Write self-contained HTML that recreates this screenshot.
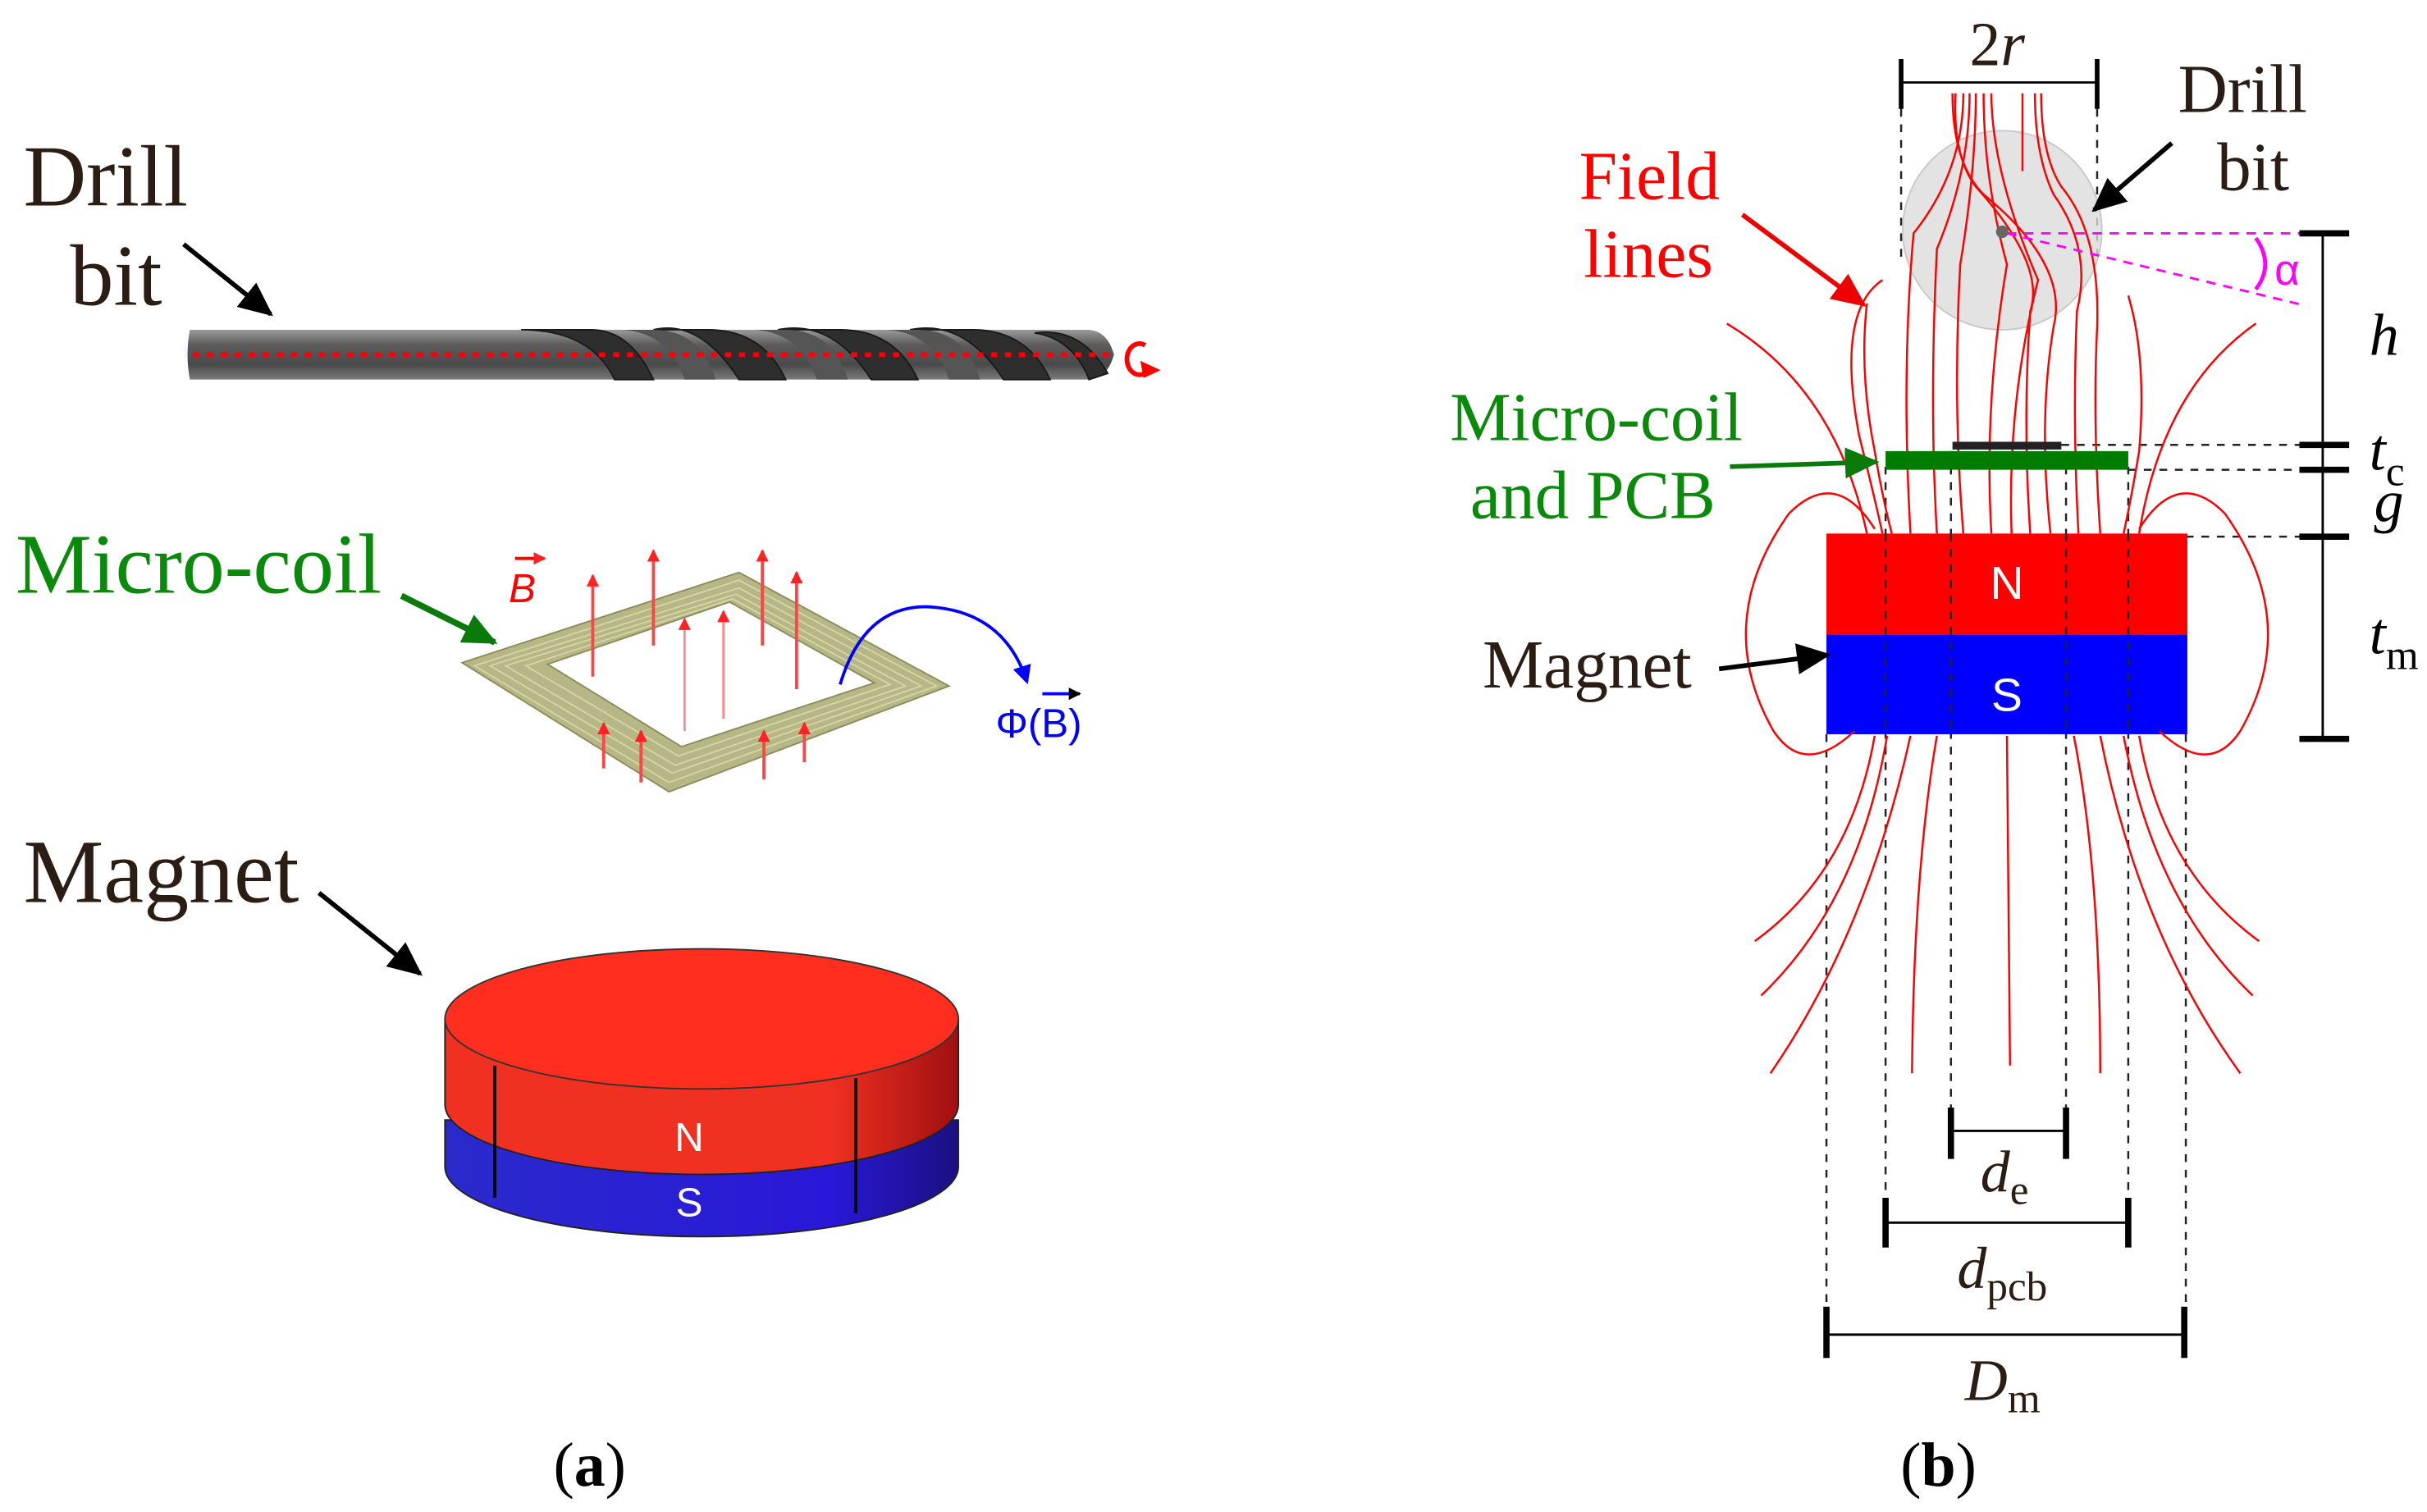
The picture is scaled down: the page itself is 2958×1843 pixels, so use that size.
<!DOCTYPE html>
<html><head><meta charset="utf-8"><style>
html,body{margin:0;padding:0;background:#fff;}
svg{display:block;}
.s{font-family:"Liberation Serif",serif;}
</style></head><body>
<svg width="2958" height="1843" viewBox="0 0 1560 972" xmlns="http://www.w3.org/2000/svg">
<defs>
<marker id="ab" markerWidth="8" markerHeight="8" refX="7" refY="4" orient="auto" markerUnits="userSpaceOnUse" viewBox="0 0 8 8"><path d="M0,0 L8,4 L0,8z" fill="#000"/></marker>
<marker id="abk" markerWidth="22" markerHeight="20" refX="20" refY="10" orient="auto" markerUnits="userSpaceOnUse"><path d="M0,0 L22,10 L0,20z" fill="#000"/></marker>
<marker id="agr" markerWidth="22" markerHeight="20" refX="20" refY="10" orient="auto" markerUnits="userSpaceOnUse"><path d="M0,0 L22,10 L0,20z" fill="#0a7a0a"/></marker>
<marker id="ard" markerWidth="22" markerHeight="20" refX="20" refY="10" orient="auto" markerUnits="userSpaceOnUse"><path d="M0,0 L22,10 L0,20z" fill="#e00"/></marker>
<marker id="asr" markerWidth="8" markerHeight="8" refX="7" refY="4" orient="auto" markerUnits="userSpaceOnUse"><path d="M0,0 L8,4 L0,8z" fill="#f22"/></marker>
<marker id="abl" markerWidth="12" markerHeight="12" refX="10" refY="6" orient="auto" markerUnits="userSpaceOnUse"><path d="M0,0 L12,6 L0,12z" fill="#00f"/></marker>
<linearGradient id="rod" x1="0" y1="0" x2="0" y2="1"><stop offset="0" stop-color="#9a9a9a"/><stop offset="0.3" stop-color="#5c5c5c"/><stop offset="0.7" stop-color="#4a4a4a"/><stop offset="1" stop-color="#7a7a7a"/></linearGradient>
<linearGradient id="redside" x1="0" y1="0" x2="1" y2="0"><stop offset="0" stop-color="#f03020"/><stop offset="0.75" stop-color="#f03020"/><stop offset="1" stop-color="#a01010"/></linearGradient>
<linearGradient id="blueside" x1="0" y1="0" x2="1" y2="0"><stop offset="0" stop-color="#2a2acc"/><stop offset="0.75" stop-color="#2a18d8"/><stop offset="1" stop-color="#1a1080"/></linearGradient>
</defs>

<!-- ===== Panel (a) ===== -->
<text x="15" y="132" class="s" font-size="56" fill="#2b1d14">Drill</text>
<text x="45" y="196" class="s" font-size="56" fill="#2b1d14">bit</text>
<line x1="118" y1="157" x2="174" y2="202" stroke="#000" stroke-width="3" marker-end="url(#abk)"/>

<!-- drill -->
<path d="M122,212 L700,212 Q712,213 716,228 Q712,243 700,244 L122,244 Q119,228 122,212z" fill="url(#rod)"/>
<g fill="#2e2e2e" stroke="#1a1a1a" stroke-width="1">
<path d="M335,212 Q380,212 395,244 L420,244 Q405,212 380,212z"/>
<path d="M420,212 Q450,205 475,244 L505,244 Q490,212 455,212z"/>
<path d="M500,212 Q535,205 560,244 L590,244 Q575,212 540,212z"/>
<path d="M585,212 Q620,205 645,244 L675,244 Q660,212 625,212z"/>
<path d="M665,214 Q695,210 712,240 L700,244 Q690,218 665,214z"/>
</g>
<g fill="#555">
<path d="M400,212 Q430,214 440,244 L460,244 Q450,212 420,212z"/>
<path d="M485,212 Q515,214 525,244 L545,244 Q535,212 505,212z"/>
<path d="M570,212 Q600,214 610,244 L630,244 Q620,212 590,212z"/>
</g>
<line x1="124" y1="228" x2="716" y2="228" stroke="#f00" stroke-width="3" stroke-dasharray="4,5"/>
<path d="M736,222 A8,10 0 1,0 738,238" fill="none" stroke="#f00" stroke-width="3"/>
<path d="M733,232 L746,238 L735,243z" fill="#f00"/>

<!-- micro-coil -->
<text x="10" y="381" class="s" font-size="55" fill="#0a8a0a">Micro-coil</text>
<line x1="258" y1="383" x2="318" y2="413" stroke="#0a7a0a" stroke-width="4" marker-end="url(#agr)"/>
<path d="M297,426 L475,368 L610,441 L430,509z M352,427 L438,480 L562,439 L469,387z" fill="#b7b785" fill-rule="evenodd" stroke="#8c8c5c" stroke-width="1"/>
<path d="M305,428 L475,373 L602,441 L430,503z M315,428 L475,378 L592,441 L432,497z M325,428 L473,382 L582,441 L434,492z M338,428 L471,385 L572,440 L436,486z" fill="none" stroke="#d4d4a8" stroke-width="1"/>
<text x="327" y="387" font-family="Liberation Sans,sans-serif" font-style="italic" font-size="26" fill="#f00">B</text>
<line x1="331" y1="359" x2="350" y2="359" stroke="#f00" stroke-width="2" marker-end="url(#asr)"/>
<g stroke="#f44" stroke-width="2" marker-end="url(#asr)">
<line x1="381" y1="435" x2="381" y2="370"/>
<line x1="420" y1="415" x2="420" y2="354"/>
<line x1="490" y1="415" x2="490" y2="354"/>
<line x1="512" y1="443" x2="512" y2="368"/>
<line x1="388" y1="494" x2="388" y2="465"/>
<line x1="412" y1="503" x2="412" y2="470"/>
<line x1="491" y1="501" x2="491" y2="470"/>
<line x1="517" y1="490" x2="517" y2="465"/>
</g>
<g stroke="#f88" stroke-width="1.5" marker-end="url(#asr)">
<line x1="440" y1="470" x2="440" y2="398"/>
<line x1="465" y1="462" x2="465" y2="393"/>
</g>
<path d="M540,440 Q555,390 595,390 Q645,392 660,438" fill="none" stroke="#00f" stroke-width="2" marker-end="url(#abl)"/>
<text x="640" y="474" font-family="Liberation Sans,sans-serif" font-size="26" fill="#00f">Φ(B)</text>
<line x1="670" y1="446" x2="694" y2="446" stroke="#00f" stroke-width="2" marker-end="url(#ab)"/>

<!-- magnet -->
<text x="15" y="580" class="s" font-size="58" fill="#2b1d14">Magnet</text>
<line x1="205" y1="574" x2="270" y2="626" stroke="#000" stroke-width="3" marker-end="url(#abk)"/>
<path d="M286,720 L286,750 A165,45 0 0,0 616,750 L616,720z" fill="url(#blueside)" stroke="#222" stroke-width="1"/>
<path d="M286,655 L286,710 A165,45 0 0,0 616,710 L616,655z" fill="url(#redside)" stroke="#222" stroke-width="1"/>
<ellipse cx="451" cy="655" rx="165" ry="45" fill="#ff2e1e" stroke="#333" stroke-width="1"/>
<line x1="318" y1="685" x2="318" y2="770" stroke="#000" stroke-width="2"/>
<line x1="550" y1="693" x2="550" y2="780" stroke="#000" stroke-width="2"/>
<text x="443" y="740" text-anchor="middle" font-family="Liberation Sans,sans-serif" font-size="26" fill="#fff">N</text>
<text x="443" y="782" text-anchor="middle" font-family="Liberation Sans,sans-serif" font-size="26" fill="#fff">S</text>
<text x="379" y="955" text-anchor="middle" class="s" font-size="40" fill="#000">(<tspan font-weight="bold">a</tspan>)</text>

<!-- ===== Panel (b) ===== -->
<g stroke="#222" stroke-width="1.3" stroke-dasharray="5,5" fill="none">
<line x1="1222" y1="70" x2="1222" y2="170"/>
<line x1="1348" y1="70" x2="1348" y2="170"/>
<line x1="1174" y1="472" x2="1174" y2="870"/>
<line x1="1405" y1="472" x2="1405" y2="870"/>
<line x1="1212" y1="300" x2="1212" y2="790"/>
<line x1="1368" y1="300" x2="1368" y2="790"/>
<line x1="1254" y1="290" x2="1254" y2="740"/>
<line x1="1328" y1="290" x2="1328" y2="740"/>
<line x1="1325" y1="286" x2="1482" y2="286"/>
<line x1="1368" y1="302" x2="1482" y2="302"/>
<line x1="1405" y1="345" x2="1482" y2="345"/>
</g>

<circle cx="1287" cy="148" r="64" fill="#dcdcdc" fill-opacity="0.8" stroke="#c8c8c8"/>

<rect x="1174" y="343" width="232" height="65" fill="#ff0000"/>
<rect x="1174" y="408" width="232" height="64" fill="#0000ff"/>
<text x="1290" y="385" text-anchor="middle" font-family="Liberation Sans,sans-serif" font-size="30" fill="#fff">N</text>
<text x="1290" y="457" text-anchor="middle" font-family="Liberation Sans,sans-serif" font-size="30" fill="#fff">S</text>
<g stroke="#222" stroke-width="1.3" stroke-dasharray="5,5">
<line x1="1212" y1="343" x2="1212" y2="472"/><line x1="1368" y1="343" x2="1368" y2="472"/>
<line x1="1254" y1="343" x2="1254" y2="472"/><line x1="1328" y1="343" x2="1328" y2="472"/>
</g>

<g fill="none" stroke="#f00" stroke-width="1.3">
<path d="M1262,60 Q1262,110 1230,150 Q1222,240 1228,343"/>
<path d="M1266,60 Q1266,110 1245,160 Q1240,260 1245,343"/>
<path d="M1270,60 Q1270,110 1260,170 Q1255,260 1262,343"/>
<path d="M1275,60 Q1275,115 1290,170 Q1275,260 1280,343"/>
<path d="M1280,60 Q1280,110 1310,180 Q1290,260 1293,343"/>
<path d="M1257,60 Q1255,100 1270,120 Q1315,170 1305,200 Q1300,270 1305,343"/>
<path d="M1255,60 Q1255,105 1275,125 Q1330,170 1320,210 Q1310,270 1318,343"/>
<path d="M1300,60 L1300,110"/>
<path d="M1308,60 Q1308,100 1320,125 Q1345,160 1335,200 Q1332,270 1336,343"/>
<path d="M1312,60 Q1312,100 1325,120 Q1350,150 1348,210 Q1345,270 1350,343"/>
<path d="M1200,195 Q1195,240 1205,290 Q1210,320 1216,343"/>
<path d="M1210,180 Q1180,200 1195,280 Q1205,320 1210,343"/>
<path d="M1368,190 Q1380,230 1375,290 Q1370,320 1365,343"/>
<path d="M1110,208 Q1180,250 1200,343"/>
<path d="M1450,208 Q1390,250 1375,343"/>
<path d="M1205,340 Q1180,300 1150,330 Q1100,400 1140,470 Q1160,500 1192,470"/>
<path d="M1375,340 Q1400,300 1430,330 Q1480,400 1440,470 Q1420,500 1388,470"/>
<path d="M1205,473 Q1190,560 1128,605"/>
<path d="M1213,473 Q1195,580 1132,640"/>
<path d="M1228,473 Q1200,600 1138,690"/>
<path d="M1245,473 Q1230,560 1229,690"/>
<path d="M1290,473 L1292,685"/>
<path d="M1333,473 Q1350,560 1350,690"/>
<path d="M1350,473 Q1375,600 1440,690"/>
<path d="M1365,473 Q1385,580 1448,640"/>
<path d="M1375,473 Q1390,560 1452,605"/>
</g>

<rect x="1212" y="290" width="156" height="12" fill="#007d00"/>
<rect x="1255" y="284" width="70" height="5" fill="#222"/>

<g stroke="#f0f" stroke-width="1.5" stroke-dasharray="6,5" fill="none">
<line x1="1290" y1="150" x2="1480" y2="150"/>
<line x1="1290" y1="150" x2="1480" y2="196"/>
</g>
<path d="M1450,153 Q1462,170 1450,186" fill="none" stroke="#f0f" stroke-width="2.5"/>
<text x="1462" y="183" font-family="Liberation Sans,sans-serif" font-size="28" fill="#f0f">α</text>
<circle cx="1287" cy="149" r="4" fill="#666"/>

<line x1="1222" y1="53" x2="1348" y2="53" stroke="#000" stroke-width="1.5"/>
<line x1="1222" y1="38" x2="1222" y2="70" stroke="#000" stroke-width="3"/>
<line x1="1348" y1="38" x2="1348" y2="70" stroke="#000" stroke-width="3"/>
<text x="1266" y="42" class="s" font-size="40" fill="#2b1d14">2<tspan font-style="italic">r</tspan></text>

<line x1="1493" y1="150" x2="1493" y2="475" stroke="#000" stroke-width="1.5"/>
<g stroke="#000" stroke-width="4">
<line x1="1478" y1="150" x2="1510" y2="150"/>
<line x1="1478" y1="286" x2="1510" y2="286"/>
<line x1="1478" y1="302" x2="1510" y2="302"/>
<line x1="1478" y1="345" x2="1510" y2="345"/>
<line x1="1478" y1="475" x2="1510" y2="475"/>
</g>
<text x="1523" y="228" class="s" font-style="italic" font-size="38" fill="#000">h</text>
<text x="1523" y="302" class="s" font-style="italic" font-size="38" fill="#000">t<tspan font-style="normal" font-size="27" dy="10">c</tspan></text>
<text x="1526" y="335" class="s" font-style="italic" font-size="38" fill="#000">g</text>
<text x="1523" y="420" class="s" font-style="italic" font-size="38" fill="#000">t<tspan font-style="normal" font-size="27" dy="10">m</tspan></text>

<text x="1400" y="72" class="s" font-size="44" fill="#2b1d14">Drill</text>
<text x="1425" y="122" class="s" font-size="44" fill="#2b1d14">bit</text>
<line x1="1396" y1="92" x2="1346" y2="135" stroke="#000" stroke-width="3" marker-end="url(#abk)"/>
<text x="1015" y="128" class="s" font-size="44" fill="#f00">Field</text>
<text x="1018" y="178" class="s" font-size="44" fill="#f00">lines</text>
<line x1="1120" y1="138" x2="1198" y2="196" stroke="#e00" stroke-width="3" marker-end="url(#ard)"/>
<text x="932" y="283" class="s" font-size="44" fill="#0a8a0a">Micro-coil</text>
<text x="945" y="333" class="s" font-size="44" fill="#0a8a0a">and PCB</text>
<line x1="1112" y1="300" x2="1206" y2="297" stroke="#0a7a0a" stroke-width="3" marker-end="url(#agr)"/>
<text x="953" y="442" class="s" font-size="44" fill="#2b1d14">Magnet</text>
<line x1="1105" y1="430" x2="1175" y2="421" stroke="#000" stroke-width="3" marker-end="url(#abk)"/>

<g stroke="#000">
<line x1="1254" y1="727" x2="1328" y2="727" stroke-width="1.5"/>
<line x1="1254" y1="712" x2="1254" y2="745" stroke-width="4"/>
<line x1="1328" y1="712" x2="1328" y2="745" stroke-width="4"/>
<line x1="1212" y1="786" x2="1368" y2="786" stroke-width="1.5"/>
<line x1="1212" y1="770" x2="1212" y2="802" stroke-width="4"/>
<line x1="1368" y1="770" x2="1368" y2="802" stroke-width="4"/>
<line x1="1174" y1="858" x2="1404" y2="858" stroke-width="1.5"/>
<line x1="1174" y1="840" x2="1174" y2="873" stroke-width="4"/>
<line x1="1404" y1="840" x2="1404" y2="873" stroke-width="4"/>
</g>
<text x="1273" y="766" class="s" font-style="italic" font-size="38" fill="#2b1d14">d<tspan font-style="normal" font-size="27" dy="8">e</tspan></text>
<text x="1258" y="828" class="s" font-style="italic" font-size="38" fill="#2b1d14">d<tspan font-style="normal" font-size="27" dy="8">pcb</tspan></text>
<text x="1263" y="900" class="s" font-style="italic" font-size="38" fill="#2b1d14">D<tspan font-style="normal" font-size="27" dy="8">m</tspan></text>
<text x="1246" y="955" text-anchor="middle" class="s" font-size="40" fill="#000">(<tspan font-weight="bold">b</tspan>)</text>
</svg>
</body></html>
